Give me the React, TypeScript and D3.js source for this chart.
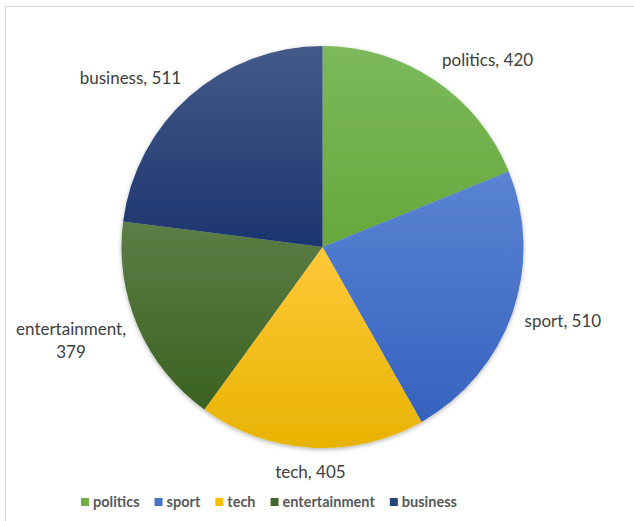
import React, { useEffect, useRef } from "react";
import * as d3 from "d3";

const categories = ["politics", "sport", "tech", "entertainment", "business"];
const values = [420, 510, 405, 379, 511];
const topColors = ["#7cb95c", "#5a84d2", "#ffc83a", "#5c7d46", "#445a89"];
const bottomColors = ["#67a83b", "#3562bf", "#e8b300", "#3a6222", "#1c356e"];
const legendColors = ["#70ad47", "#4472c4", "#ffc000", "#43682b", "#264478"];

const W = 634;
const H = 521;

export default function App() {
  const ref = useRef<SVGSVGElement | null>(null);

  useEffect(() => {
    document.body.style.margin = "0";
    const svg = d3.select(ref.current);
    svg.selectAll("*").remove();

    const cx = 322.5;
    const cy = 247;
    const r = 201;

    const defs = svg.append("defs");
    const filter = defs
      .append("filter")
      .attr("id", "shadow")
      .attr("x", "-10%")
      .attr("y", "-10%")
      .attr("width", "120%")
      .attr("height", "120%");
    filter
      .append("feDropShadow")
      .attr("dx", 0)
      .attr("dy", 1.5)
      .attr("stdDeviation", 2)
      .attr("flood-color", "#000")
      .attr("flood-opacity", 0.3);

    categories.forEach((c, i) => {
      const g = defs
        .append("linearGradient")
        .attr("id", "grad" + i)
        .attr("x1", 0)
        .attr("y1", 0)
        .attr("x2", 0)
        .attr("y2", 1);
      g.append("stop").attr("offset", "0%").attr("stop-color", topColors[i]);
      g.append("stop").attr("offset", "100%").attr("stop-color", bottomColors[i]);
    });

    svg.append("rect").attr("x", 0).attr("y", 0).attr("width", W).attr("height", H).attr("fill", "#fff");
    svg
      .append("rect")
      .attr("x", 5.5)
      .attr("y", 6.5)
      .attr("width", W + 20)
      .attr("height", H + 20)
      .attr("fill", "none")
      .attr("stroke", "#d9d9d9")
      .attr("stroke-width", 1);

    const pie = d3.pie<number>().sort(null).value((d) => d);
    const arcs = pie(values);
    const arc = d3.arc<d3.PieArcDatum<number>>().innerRadius(0).outerRadius(r);

    const pg = svg.append("g").attr("transform", `translate(${cx},${cy})`);
    pg.append("g")
      .attr("filter", "url(#shadow)")
      .selectAll("path")
      .data(arcs)
      .join("path")
      .attr("d", arc)
      .attr("fill", (_d, i) => `url(#grad${i})`);

    // Labels
    const fontFamily = "Lato, 'Open Sans', sans-serif";
    const lg = svg.append("g").attr("font-family", fontFamily).attr("font-size", 17).attr("fill", "#404040");
    arcs.forEach((a, i) => {
      const mid = (a.startAngle + a.endAngle) / 2;
      const s = Math.sin(mid);
      const c = Math.cos(mid);
      const d = 13;
      const px = cx + (r + d) * s;
      const py = cy - (r + d) * c;
      const lines =
        categories[i] === "entertainment"
          ? [categories[i] + ",", String(values[i])]
          : [categories[i] + ", " + values[i]];
      const lh = 23;
      const h = lines.length * lh;
      let anchor = "middle";
      if (s > 0.3) anchor = "start";
      else if (s < -0.3) anchor = "end";
      const boxCy = py - (h / 2) * c;
      const t = lg.append("text").attr("text-anchor", anchor === "end" && lines.length > 1 ? "middle" : anchor);
      let x = px;
      if (anchor === "end" && lines.length > 1) {
        const tmp = lg.append("text").text(lines[0]);
        const w = (tmp.node() as SVGTextElement).getComputedTextLength();
        tmp.remove();
        x = px - w / 2;
      }
      lines.forEach((ln, k) => {
        t.append("tspan")
          .attr("x", x)
          .attr("y", boxCy - h / 2 + lh * k + lh / 2)
          .attr("dy", "0.35em")
          .text(ln);
      });
    });

    // Legend
    const leg = svg
      .append("g")
      .attr("font-family", fontFamily)
      .attr("font-size", 14.5)
      .attr("font-weight", "bold")
      .attr("fill", "#595959");
    let lx = 81;
    const ly = 502;
    categories.forEach((c, i) => {
      leg
        .append("rect")
        .attr("x", lx)
        .attr("y", ly - 4)
        .attr("width", 8)
        .attr("height", 8)
        .attr("fill", legendColors[i]);
      const t = leg
        .append("text")
        .attr("x", lx + 12)
        .attr("y", ly)
        .attr("dy", "0.35em")
        .text(c);
      const w = (t.node() as SVGTextElement).getComputedTextLength();
      lx += 12 + w + 15;
    });
  }, []);

  return <svg ref={ref} width={W} height={H} style={{ display: "block" }} />;
}
